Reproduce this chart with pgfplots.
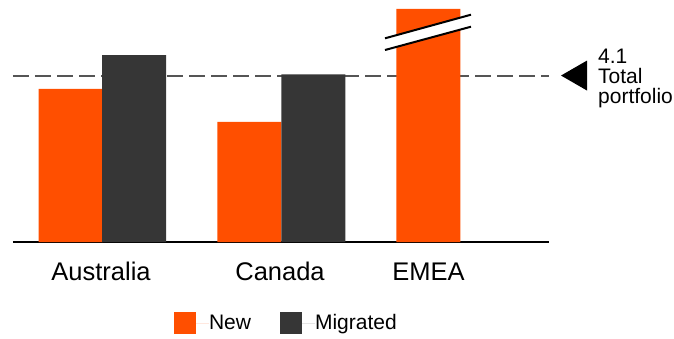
\documentclass[border=0pt]{standalone}
\usepackage{pgfplots}
\pgfplotsset{compat=1.18}
\usepackage{fontspec}
\setmainfont{Liberation Sans}
\definecolor{neworange}{HTML}{FF4F00}
\definecolor{migrgray}{HTML}{363636}
\definecolor{refgray}{HTML}{555555}

\begin{document}
\begin{tikzpicture}[x=1pt,y=1pt]
\path[use as bounding box] (0,0) rectangle (674,338);
\begin{axis}[
  at={(13pt,96pt)}, anchor=south west,
  scale only axis, width=536pt, height=242pt,
  xmin=13, xmax=549, ymin=0, ymax=5.9606,
  axis x line*=bottom, axis y line=none,
  x axis line style={line width=2pt, black},
  xtick={101,280,428.5},
  xticklabels={Australia,Canada,EMEA},
  major tick length=0pt,
  xticklabel style={font=\fontsize{25.5}{30}\selectfont, anchor=base, yshift=-38pt},
  clip=false,
  legend style={at={(axis cs:174,-1.717)}, anchor=north west, draw=none,
    inner sep=0pt, outer sep=0pt, column sep=0pt,
    nodes={inner sep=0pt}, font=\fontsize{21}{25}\selectfont},
  legend columns=2,
  legend image code/.code={
    \path[#1] (0pt,-11pt) rectangle (22pt,11pt);
    \path (0pt,0pt) rectangle (35pt,0pt);
  },
]
% reference line for the total portfolio
\addplot[refgray, line width=2pt, dash pattern=on 16pt off 6pt, forget plot]
  coordinates {(13,4.1) (549,4.1)};

% New
\addplot[ybar, bar width=64pt, bar shift=0pt, fill=neworange, draw=none]
  coordinates {(70.5,3.77) (249.3,2.96) (428.3,5.74)};
\addlegendentry{New\hspace*{29pt}}
% Migrated
\addplot[ybar, bar width=64pt, bar shift=0pt, fill=migrgray, draw=none]
  coordinates {(134.2,4.60) (313.3,4.13)};
\addlegendentry{Migrated}

% axis break on the EMEA bar
\addplot[fill=white, draw=none, forget plot]
  coordinates {(385,5.017) (471,5.599) (471,5.303) (385,4.729)} -- cycle;
\addplot[black, line width=2pt, forget plot]
  coordinates {(385,5.017) (471,5.599)};
\addplot[black, line width=2pt, forget plot]
  coordinates {(385,4.729) (471,5.303)};

% marker and label for the total
\addplot[fill=black, draw=none, forget plot]
  coordinates {(561,4.1) (587,4.469) (587,3.731)} -- cycle;
\node[anchor=west, align=left, inner sep=0pt,
  font=\fontsize{21}{20}\selectfont] at (axis cs:598,4.03) {4.1\\Total\\portfolio};
\end{axis}
\end{tikzpicture}
\end{document}
